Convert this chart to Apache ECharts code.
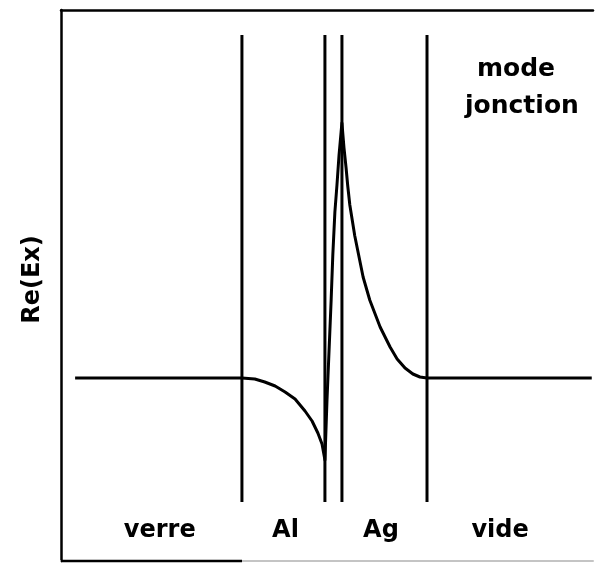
<!DOCTYPE html>
<html>
<head>
<meta charset="utf-8">
<title>mode jonction - Re(Ex)</title>
<script src="https://cdn.jsdelivr.net/npm/echarts@6/dist/echarts.min.js"></script>
<style>
  html, body { margin: 0; padding: 0; background: #fff; }
  #chart { width: 602px; height: 564px; }
</style>
</head>
<body>
<div id="chart"></div>
<script>
// depth through the stack (nm, 0 = verre/Al interface) and Re(Ex), normalised to the peak
var interfaces = [0, 20, 24.1, 44.6];
var regions = ['verre', 'Al', 'Ag', 'vide'];
var regionCentres = [-19.8, 10.5, 33.5, 62.2];

var verre = [[-40.2, 0], [0, 0]];
var al = [
  [3.1, -0.004], [5.5, -0.016], [8.0, -0.032], [10.4, -0.056], [12.8, -0.084],
  [15.2, -0.132], [16.9, -0.172], [18.3, -0.22], [19.3, -0.264], [20.0, -0.328]
];
var gap = [
  [20.5, -0.088], [21.0, 0.112], [21.5, 0.312], [21.9, 0.492], [22.4, 0.664],
  [22.9, 0.772], [23.4, 0.892], [23.9, 0.984], [24.1, 1.02]
];
var ag = [
  [24.6, 0.92], [25.1, 0.84], [25.5, 0.768], [26.0, 0.692], [27.2, 0.568],
  [29.2, 0.404], [30.8, 0.312], [33.3, 0.204], [35.7, 0.124], [37.4, 0.076],
  [39.3, 0.04], [41.2, 0.016], [42.9, 0.004], [44.6, 0]
];
var vide = [[84.3, 0]];

var curve = verre.concat(al, gap, ag, vide);

var chart = echarts.init(document.getElementById('chart'));

var font = 'DejaVu Sans';
var lineTop = 1.372, lineBottom = -0.496, labelLevel = -0.61;

var series = interfaces.map(function (x) {
  return {
    type: 'line',
    data: [[x, lineBottom], [x, lineTop]],
    symbol: 'none',
    silent: true,
    lineStyle: { color: '#000', width: 3 }
  };
});

series.push({
  name: 'Re(Ex)',
  type: 'line',
  data: curve,
  symbol: 'none',
  silent: true,
  lineStyle: { color: '#000', width: 3, join: 'round' }
});

series.push({
  type: 'scatter',
  symbolSize: 0,
  silent: true,
  itemStyle: { opacity: 1 },
  data: regionCentres.map(function (x, i) {
    return { name: regions[i], value: [x, labelLevel] };
  }),
  label: {
    show: true,
    position: 'inside',
    formatter: '{b}',
    color: '#000',
    opacity: 1,
    fontFamily: font,
    fontWeight: 'bold',
    fontSize: 24
  }
});

chart.setOption({
  backgroundColor: '#fff',
  animation: false,
  grid: { left: 61, right: 9, top: 10, bottom: 3 },
  xAxis: [{
    type: 'value',
    position: 'top',
    min: -43.6,
    max: 84.6,
    axisLine: { onZero: false, lineStyle: { color: '#000', width: 2.5 } },
    axisTick: { show: false },
    axisLabel: { show: false },
    splitLine: { show: false }
  }, {
    type: 'value',
    position: 'bottom',
    min: -43.6,
    max: 84.6,
    axisLine: { onZero: false, lineStyle: { color: '#c4c4c4', width: 2 } },
    axisTick: { show: false },
    axisLabel: { show: false },
    splitLine: { show: false }
  }],
  yAxis: {
    type: 'value',
    min: -0.732,
    max: 1.472,
    name: 'Re(Ex)',
    nameLocation: 'middle',
    nameRotate: 90,
    nameGap: 16,
    nameTextStyle: { color: '#000', fontFamily: font, fontWeight: 'bold', fontSize: 24, padding: [0, 0, 0, 12] },
    axisLine: { onZero: false, lineStyle: { color: '#000', width: 2.5 } },
    axisTick: { show: false },
    axisLabel: { show: false },
    splitLine: { show: false }
  },
  graphic: [
    { type: 'line', z: 100, shape: { x1: 61, y1: 561, x2: 242, y2: 561 }, style: { stroke: '#000', lineWidth: 2.5 } },
    { type: 'text', z: 100, left: 477, top: 57, style: { text: 'mode', fill: '#000', font: 'bold 25px "DejaVu Sans"' } },
    { type: 'text', z: 100, left: 465, top: 94, style: { text: 'jonction', fill: '#000', font: 'bold 25px "DejaVu Sans"' } }
  ],
  series: series
});
</script>
</body>
</html>
